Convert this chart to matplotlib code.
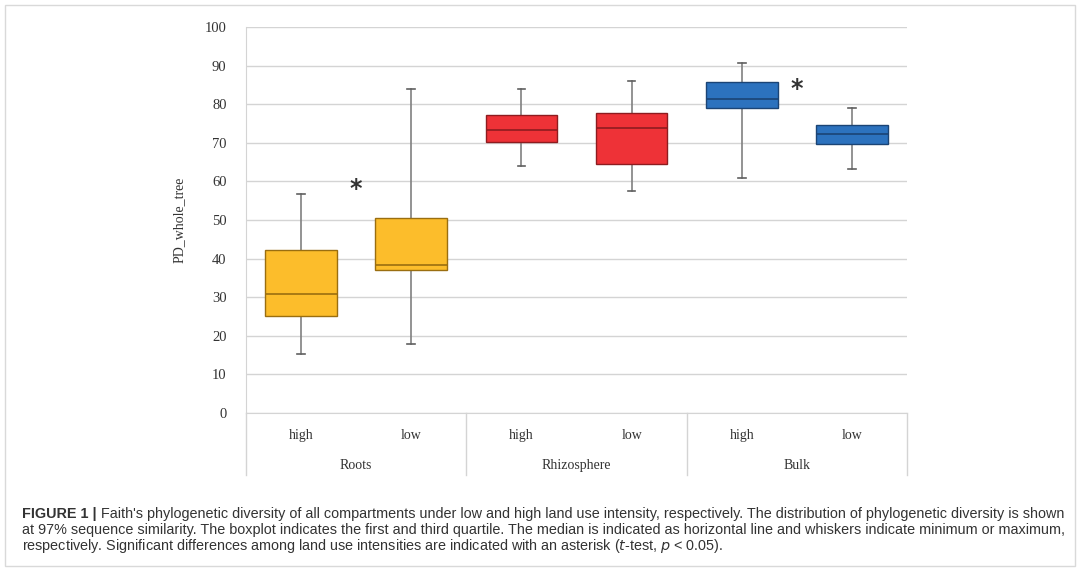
import matplotlib
matplotlib.use("Agg")
import matplotlib.pyplot as plt
from matplotlib.patches import Rectangle

groups = ["Roots", "Rhizosphere", "Bulk"]
levels = ["high", "low"]
q1 = [25.2, 37.0, 70.3, 64.5, 78.9, 69.6]
med = [30.9, 38.3, 73.4, 73.8, 81.3, 72.2]
q3 = [42.3, 50.6, 77.3, 77.7, 85.7, 74.6]
wmin = [15.3, 18.0, 64.0, 57.5, 61.0, 63.3]
wmax = [56.8, 83.9, 83.9, 86.0, 90.6, 78.9]
face_colors = ["#FCBD2B", "#FCBD2B", "#EE3237", "#EE3237", "#2C72BE", "#2C72BE"]
edge_colors = ["#9A6E10", "#9A6E10", "#8E1C1F", "#8E1C1F", "#1B4475", "#1B4475"]
star_pos = [0, 4]          # asterisk placed right of these boxes
star_y = [58.0, 84.0]
yticks = [0, 10, 20, 30, 40, 50, 60, 70, 80, 90, 100]

caption_bold = "FIGURE 1 | "
caption_lines = [
    "Faith's phylogenetic diversity of all compartments under low and high land use intensity, respectively. The distribution of phylogenetic diversity is shown",
    "at 97% sequence similarity. The boxplot indicates the first and third quartile. The median is indicated as horizontal line and whiskers indicate minimum or maximum,",
    "respectively. Significant differences among land use intensities are indicated with an asterisk ($\\it{t}$-test, $\\it{p}$ < 0.05).",
]

W, H = 1080, 568
fig = plt.figure(figsize=(W / 100, H / 100), dpi=100)
fig.patch.set_facecolor("white")

# outer frame
fig.add_artist(Rectangle((5 / W, 2 / H), 1 - 10 / W, 1 - 7 / H, transform=fig.transFigure,
                         fill=False, edgecolor="#d9d9d9", lw=1))

ax = fig.add_axes([246 / W, 1 - 413 / H, (907 - 246) / W, (413 - 27) / H])
ax.set_xlim(-0.5, 5.5)
ax.set_ylim(0, 100)

stats = []
for i in range(6):
    stats.append(dict(med=med[i], q1=q1[i], q3=q3[i], whislo=wmin[i], whishi=wmax[i], fliers=[]))

bp = ax.bxp(stats, positions=range(6), widths=0.65, patch_artist=True, showfliers=False,
            capwidths=0.07, manage_ticks=False)
for i, box in enumerate(bp["boxes"]):
    box.set_facecolor(face_colors[i])
    box.set_edgecolor(edge_colors[i])
    box.set_linewidth(1.0)
    box.set_zorder(3)
for i, m in enumerate(bp["medians"]):
    m.set_color(edge_colors[i])
    m.set_linewidth(1.2)
    m.set_zorder(4)
for w in bp["whiskers"]:
    w.set_color("#808080")
    w.set_linewidth(1.2)
    w.set_zorder(2)
for c in bp["caps"]:
    c.set_color("#606060")
    c.set_linewidth(1.2)
    c.set_zorder(2)

for p, yv in zip(star_pos, star_y):
    ax.text(p + 0.5, yv, "*", ha="center", va="center", fontsize=17, color="#333333",
            family="DejaVu Sans", fontweight="bold")

tfs = 10
ax.set_yticks(yticks)
ax.set_yticklabels([str(v) for v in yticks], family="Liberation Serif", fontsize=tfs + 0.5, color="#333333")
ax.tick_params(axis="y", length=0, pad=14)
ax.set_xticks([])
ax.grid(axis="y", color="#d4d4d4", lw=1)
ax.set_axisbelow(True)
for s in ["top", "right"]:
    ax.spines[s].set_visible(False)
for s in ["left", "bottom"]:
    ax.spines[s].set_color("#d4d4d4")
    ax.spines[s].set_zorder(0)

ax.set_ylabel("PD_whole_tree", family="Liberation Serif", fontsize=tfs, color="#333333", labelpad=14)

# category table below
for xv in [-0.5, 1.5, 3.5, 5.5]:
    ax.plot([xv, xv], [0, -16], color="#d4d4d4", lw=1, clip_on=False)
for i in range(6):
    ax.text(i, -5.8, levels[i % 2], ha="center", va="center", family="Liberation Serif",
            fontsize=tfs, color="#333333", clip_on=False)
for g, name in enumerate(groups):
    ax.text(2 * g + 0.5, -13.6, name, ha="center", va="center", family="Liberation Serif",
            fontsize=tfs, color="#333333", clip_on=False)

# caption
fs = 10.4
y0 = 1 - 514 / H
dy = 16 / H
t = fig.text(22 / W, y0, caption_bold, family="Liberation Sans", fontweight="bold",
             fontsize=fs, color="#333333", va="center")
fig.canvas.draw()
bb = t.get_window_extent()
fig.text(bb.x1 / W, y0, caption_lines[0], family="Liberation Sans", fontsize=fs,
         color="#333333", va="center")
for k in (1, 2):
    fig.text(22 / W, y0 - k * dy, caption_lines[k], family="Liberation Sans", fontsize=fs,
             color="#333333", va="center")

fig.savefig("out.png", dpi=100)
